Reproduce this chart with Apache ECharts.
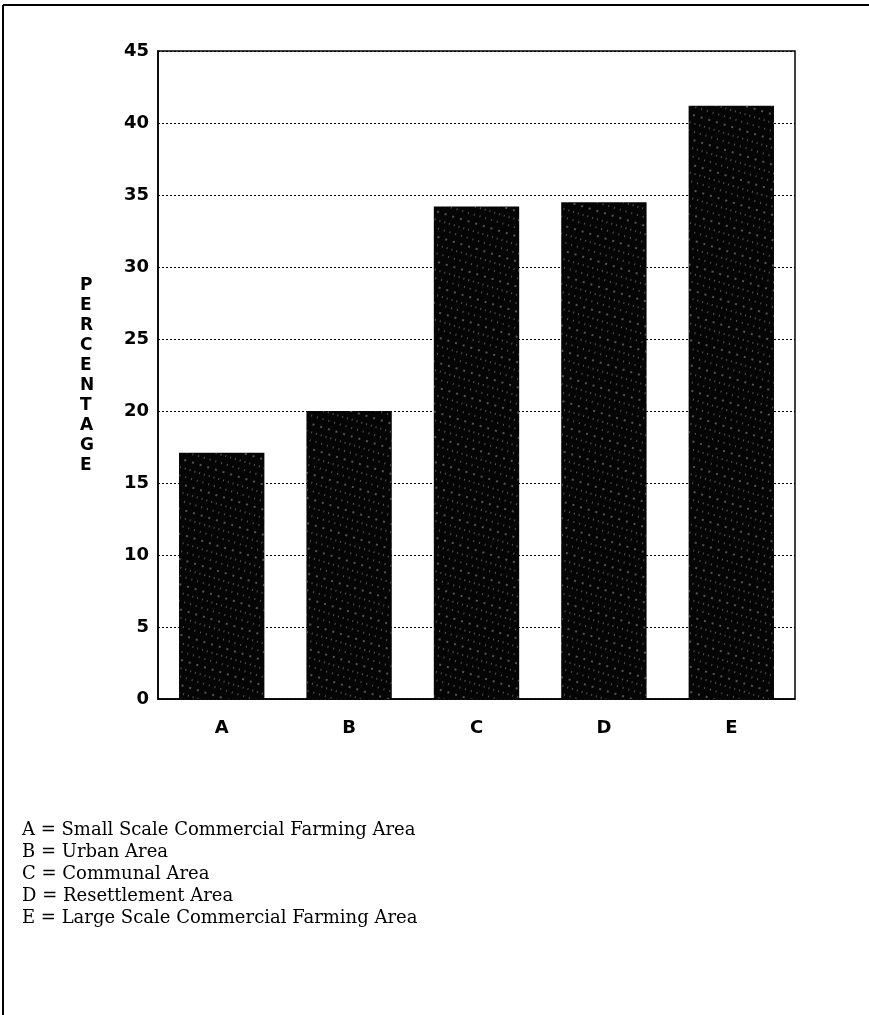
<!DOCTYPE html>
<html>
<head>
<meta charset="utf-8">
<script src="https://cdn.jsdelivr.net/npm/echarts@6/dist/echarts.min.js"></script>
<style>html,body{margin:0;padding:0;background:#fff;}#c{width:869px;height:1015px;}</style>
</head>
<body>
<div id="c"></div>
<script>
const categories = ['A', 'B', 'C', 'D', 'E'];
const percentages = [17.1, 20.0, 34.2, 34.5, 41.2];
const yTicks = [0, 5, 10, 15, 20, 25, 30, 35, 40, 45];
const axisTitle = 'PERCENTAGE';
const legendLines = [
  'A = Small Scale Commercial Farming Area',
  'B = Urban Area',
  'C = Communal Area',
  'D = Resettlement Area',
  'E = Large Scale Commercial Farming Area'
];

const chart = echarts.init(document.getElementById('c'), null, {renderer: 'canvas'});
const boldFont = '"DejaVu Sans", "Liberation Sans", sans-serif';
const option = {
  backgroundColor: '#fff',
  animation: false,
  grid: {left: 158, right: 74, top: 51, bottom: 316, show: true, borderColor: '#000', borderWidth: 1.5, backgroundColor: 'transparent'},
  xAxis: {
    type: 'category',
    data: categories,
    axisLine: {lineStyle: {color: '#000', width: 1.5}},
    axisTick: {show: false},
    axisLabel: {color: '#000', fontFamily: boldFont, fontWeight: 'bold', fontSize: 18, margin: 20}
  },
  yAxis: {
    type: 'value',
    min: yTicks[0],
    max: yTicks[yTicks.length - 1],
    interval: 5,
    axisLine: {show: true, lineStyle: {color: '#000', width: 1.5}},
    axisTick: {show: false},
    axisLabel: {color: '#000', fontFamily: boldFont, fontWeight: 'bold', fontSize: 18, margin: 9},
    splitLine: {show: true, lineStyle: {color: '#000', type: [2, 2], width: 1}}
  },
  series: [{
    type: 'bar',
    data: percentages,
    barCategoryGap: '33%',
    itemStyle: {
      color: '#050505',
      decal: {
        symbol: 'rect',
        symbolSize: 0.7,
        color: 'rgba(255,255,255,0.6)',
        dashArrayX: [[1, 5], [2, 6], [1, 4]],
        dashArrayY: [2, 6],
        rotation: 0.3
      }
    }
  }],
  graphic: [
    {type: 'line', shape: {x1: 3, y1: 5, x2: 869, y2: 5}, style: {stroke: '#000', lineWidth: 2}},
    {type: 'line', shape: {x1: 3, y1: 5, x2: 3, y2: 1015}, style: {stroke: '#000', lineWidth: 2}},
    {type: 'text', left: 80, top: 276, style: {text: axisTitle.split('').join('\n'), font: 'bold 17px ' + boldFont, lineHeight: 20, fill: '#000', align: 'center'}},
    {type: 'text', left: 22, top: 819, style: {text: legendLines.join('\n'), font: '18px "DejaVu Serif", "Liberation Serif", serif', lineHeight: 22, fill: '#000'}}
  ]
};
chart.setOption(option);
</script>
</body>
</html>
